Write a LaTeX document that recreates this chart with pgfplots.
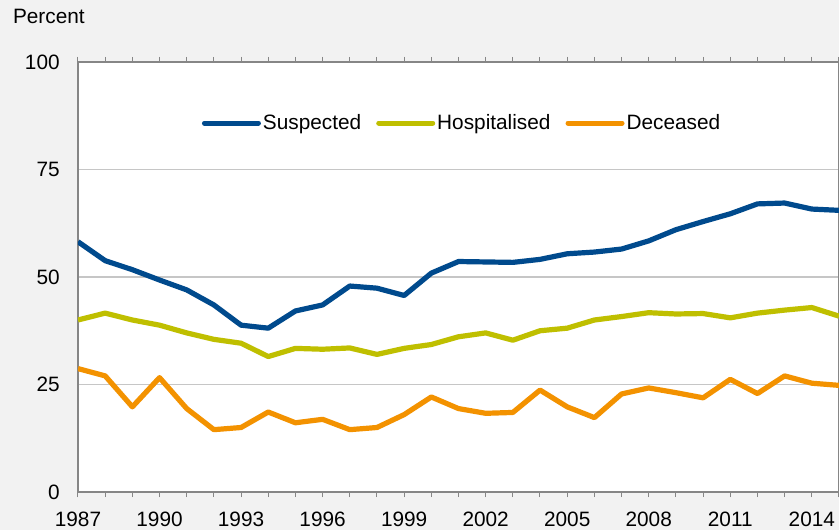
\documentclass[border=0pt]{standalone}
\usepackage{pgfplots}
\pgfplotsset{compat=1.18}
\usepackage{fontspec}
\setmainfont{Liberation Sans}

\definecolor{bgcol}{HTML}{F2F2F2}
\definecolor{suspcol}{HTML}{004A8D}
\definecolor{hospcol}{HTML}{BFBF00}
\definecolor{deadcol}{HTML}{F39200}
\definecolor{gridcol}{HTML}{C6C6C6}
\definecolor{axcol}{HTML}{868686}

\pgfplotstableread{
year susp hosp dead
1987 58.2 40.0 28.7
1988 53.8 41.6 27.0
1989 51.7 40.0 19.8
1990 49.3 38.8 26.6
1991 47.0 37.0 19.4
1992 43.5 35.5 14.5
1993 38.8 34.6 15.0
1994 38.1 31.5 18.6
1995 42.1 33.4 16.1
1996 43.5 33.2 16.9
1997 47.9 33.5 14.5
1998 47.4 32.0 15.0
1999 45.7 33.4 18.0
2000 50.9 34.3 22.1
2001 53.6 36.1 19.4
2002 53.5 37.0 18.3
2003 53.4 35.3 18.5
2004 54.1 37.5 23.7
2005 55.4 38.1 19.8
2006 55.8 40.0 17.3
2007 56.5 40.8 22.8
2008 58.4 41.7 24.2
2009 61.0 41.4 23.1
2010 62.9 41.5 21.9
2011 64.7 40.5 26.2
2012 67.0 41.6 22.9
2013 67.2 42.3 27.0
2014 65.8 42.9 25.3
2015 65.5 40.9 24.8
}\datatable

\begin{document}
\fontsize{10.4}{12}\selectfont
\begin{tikzpicture}
\fill[bgcol] (0,0) rectangle (419.5pt,265pt);
\node[anchor=base west, inner sep=0pt] at (6.3pt,253pt) {Percent};
\begin{axis}[
    at={(39pt,19pt)}, anchor=south west,
    scale only axis,
    width=380.5pt, height=215pt,
    xmin=1987, xmax=2015,
    ymin=0, ymax=100,
    ytick={0,25,50,75,100},
    xtick={1987,1990,...,2014},
    minor xtick={1987,...,2015},
    tick align=outside,
    major tick length=2.5pt,
    minor tick length=2.5pt,
    ytick style={draw=none},
    xtick style={axcol, line width=0.5pt},
    ymajorgrids,
    major grid style={gridcol, line width=0.6pt},
    axis line style={axcol, line width=0.6pt},
    axis background/.style={fill=white},
    /pgf/number format/assume math mode=true,
    /pgf/number format/1000 sep={},
    tick label style={font=\fontsize{10.4}{12}\selectfont},
    xticklabel style={yshift=-4pt},
    yticklabel style={xshift=-3pt},
    legend columns=3,
    legend style={draw=none, fill=none, at={(0.506,0.858)}, anchor=center,
        font=\fontsize{10.4}{12}\selectfont,
        /tikz/every even column/.append style={column sep=5.5pt},
        /tikz/every odd column/.append style={column sep=-1pt},
        inner sep=0pt},
    legend image code/.code={\draw[#1, line width=2.5pt, line cap=round] (0pt,0pt) -- (27pt,0pt);},
    every axis plot/.append style={line width=2.6pt, line join=round, mark=none},
]
\addplot[suspcol] table[x=year, y=susp] {\datatable};
\addlegendentry{Suspected}
\addplot[hospcol] table[x=year, y=hosp] {\datatable};
\addlegendentry{Hospitalised}
\addplot[deadcol] table[x=year, y=dead] {\datatable};
\addlegendentry{Deceased}
\end{axis}
\pgfresetboundingbox
\useasboundingbox (0,0) rectangle (419.5pt,265pt);
\end{tikzpicture}
\end{document}
